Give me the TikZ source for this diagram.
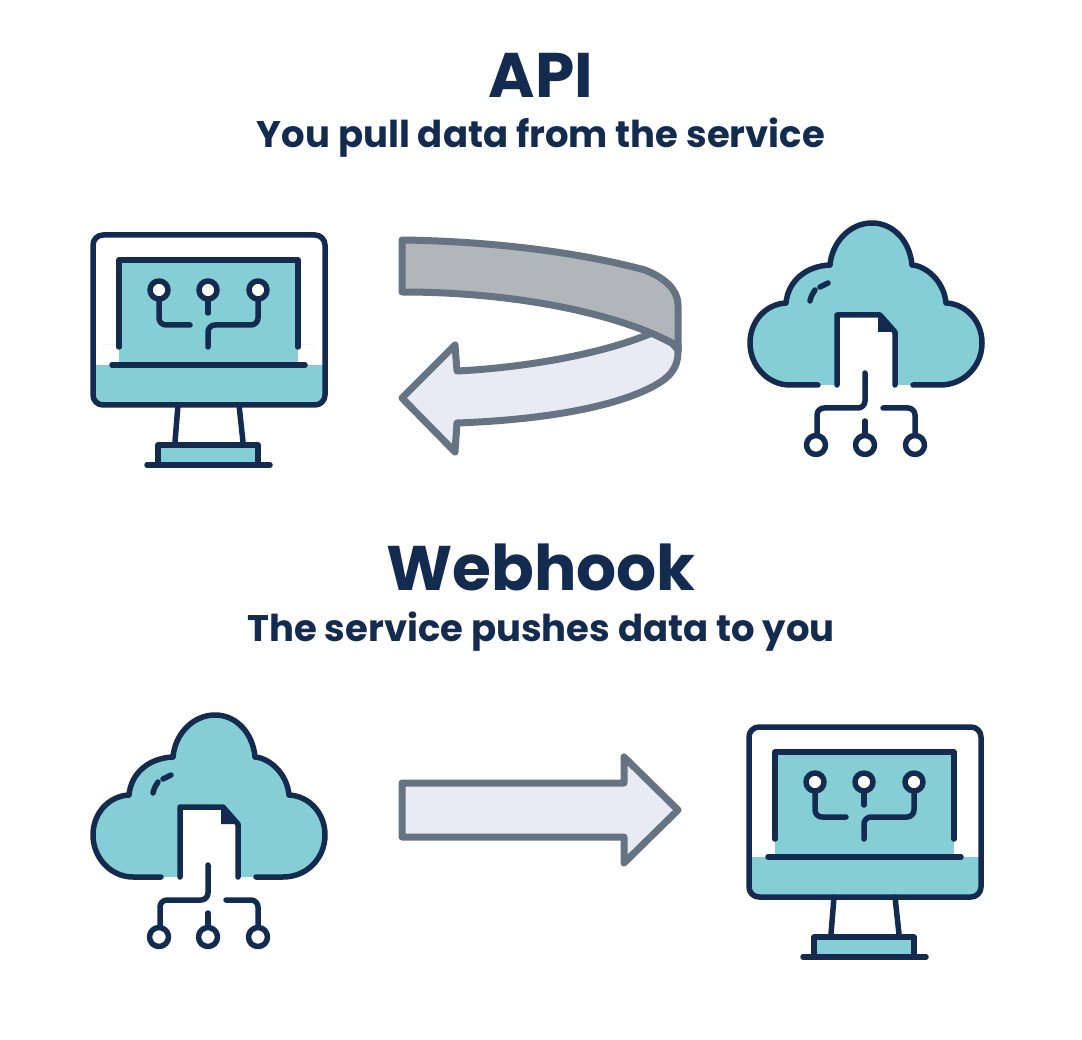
\documentclass[tikz,border=0pt]{standalone}
\usepackage{fontspec}
\setmainfont{Poppins}
\definecolor{navy}{HTML}{142B50}
\definecolor{tealfill}{HTML}{86CED6}
\definecolor{arrowline}{HTML}{667382}
\definecolor{arrowlight}{HTML}{E8EBF3}
\definecolor{arrowdark}{HTML}{B1B6BB}
\tikzset{
  icon/.style={draw=navy, line width=5.5pt, line cap=round, line join=round},
  bigtitle/.style={text=navy, font=\fontsize{63}{63}\selectfont\bfseries, inner sep=0pt, anchor=base},
  subtitle/.style={text=navy, font=\fontsize{37}{37}\selectfont\bfseries, inner sep=0pt, anchor=base},
  band/.style={draw=arrowline, line width=7pt, line join=round},
  monitor/.pic={
    \fill[tealfill, rounded corners=10pt] (0,110) rectangle (232,170);
    \fill[white] (0,110) rectangle (232,130);
    \fill[tealfill] (26,25) rectangle (205,130);
    \draw[icon, rounded corners=10pt] (0,0) rectangle (232,170);
    \draw[icon] (26,112) -- (26,25) -- (205,25) -- (205,112);
    \draw[icon] (19,130) -- (212,130);
    \draw[icon, rounded corners=7pt] (66,64) -- (66,90) -- (97,90);
    \draw[icon] (115,64) -- (115,78);
    \draw[icon, rounded corners=7pt] (165,64) -- (165,90) -- (115,90) -- (115,112);
    \foreach \cx in {66,115,165}
      \draw[icon, fill=white] (\cx,55) circle[radius=9];
    \draw[icon] (85,170) -- (82,207);
    \draw[icon] (146,170) -- (150,207);
    \draw[icon, fill=tealfill] (65,230) -- (65,210) -- (165,210) -- (165,230);
    \draw[icon] (54,230) -- (177,230);
  },
  cloud/.pic={
    \draw[icon, fill=tealfill] (68,162) -- (40,162) .. controls (18,162) and (0,143) .. (0,120)
      .. controls (0,98) and (16,81) .. (36,80) .. controls (38,58) and (56,43) .. (80,42)
      .. controls (82,19) and (100,0) .. (122,0) .. controls (144,0) and (160,19) .. (162,42)
      .. controls (176,43) and (194,58) .. (196,80) .. controls (216,81) and (232,98) .. (232,120)
      .. controls (232,143) and (214,162) .. (190,162) -- (163,162);
    \fill[white] (87,165) -- (87,92) -- (130,92) -- (145,109) -- (145,165) -- cycle;
    \draw[icon] (87,162) -- (87,92) -- (130,92) -- (145,109) -- (145,162);
    \fill[navy] (128,94) -- (128,109) -- (145,109) -- cycle;
    \draw[icon] (60,78) .. controls (61,73) and (63,70) .. (65,67);
    \draw[icon] (70,64) -- (78,60);
    \draw[icon, rounded corners=7pt] (115,150) -- (115,185) -- (67,185) -- (67,212);
    \draw[icon, rounded corners=7pt] (133,185) -- (165,185) -- (165,212);
    \draw[icon] (115,198) -- (115,212);
    \foreach \cx in {66,115,165}
      \draw[icon, fill=white] (\cx,222) circle[radius=9.5];
  }
}
\begin{document}
\begin{tikzpicture}[x=1pt, y=-1pt]
  \useasboundingbox (0,0) rectangle (1082,1040);
  \fill[white] (0,0) rectangle (1082,1040);
  % top half
  \node[bigtitle] (apititle) at (541,98) {API};
  \node[subtitle] (apisub) at (541,148) {You pull data from the service};
  \pic at (93,235) {monitor};
  \pic at (750,223) {cloud};
  \draw[band, fill=arrowlight] (652,333) .. controls (600,355) and (520,368) .. (457,371) -- (455,345) -- (402,398)
    -- (455,452) -- (457,423) .. controls (540,420) and (610,408) .. (650,388) .. controls (670,378) and (678,368) .. (678,352)
    -- (678,345) -- (672,343) -- cycle;
  \draw[band, fill=arrowdark] (402,240) .. controls (480,241) and (570,250) .. (645,270) .. controls (665,278) and (678,290) .. (678,305)
    -- (678,350) -- (672,343) .. controls (620,315) and (520,292) .. (402,292) -- cycle;
  % bottom half
  \node[bigtitle] (hooktitle) at (541,590) {Webhook};
  \node[subtitle] (hooksub) at (541,641) {The service pushes data to you};
  \pic at (93,715) {cloud};
  \pic at (749,727) {monitor};
  \draw[band, fill=arrowlight] (402,783) -- (624,783) -- (624,757) -- (678,810) -- (624,863) -- (624,837) -- (402,837) -- cycle;
\end{tikzpicture}
\end{document}
